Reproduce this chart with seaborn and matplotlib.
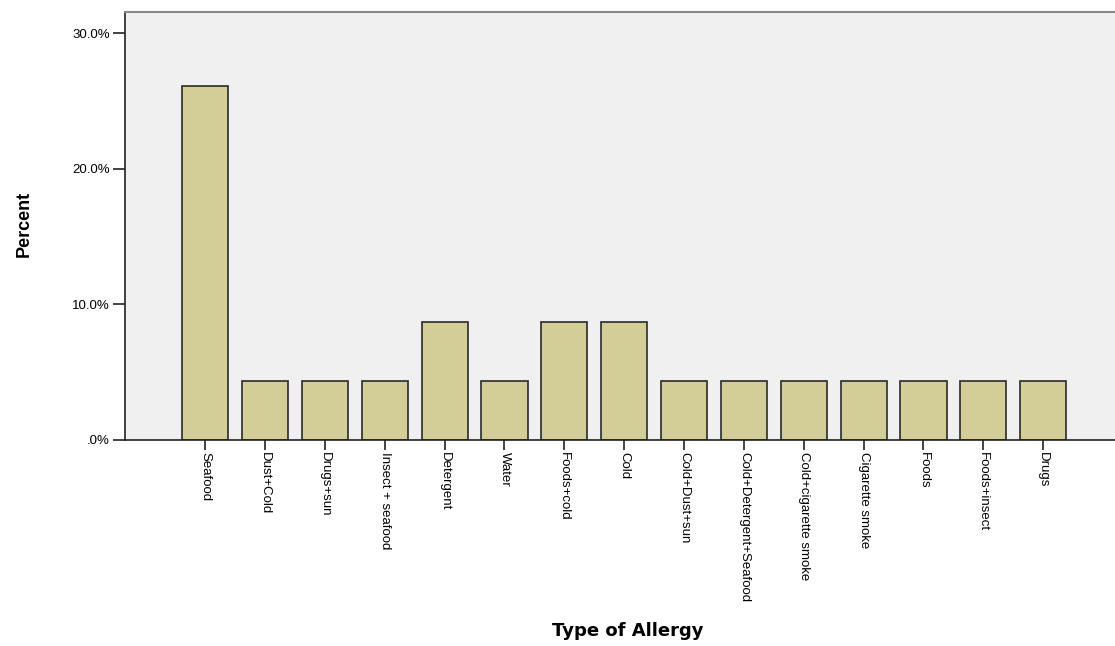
import matplotlib
matplotlib.use("Agg")
import matplotlib.pyplot as plt
import seaborn as sns
from matplotlib.ticker import FuncFormatter

allergy_types = [
    "Seafood", "Dust+Cold", "Drugs+sun", "Insect + seafood", "Detergent",
    "Water", "Foods+cold", "Cold", "Cold+Dust+sun", "Cold+Detergent+Seafood",
    "Cold+cigarette smoke", "Cigarette smoke", "Foods", "Foods+insect", "Drugs",
]
percents = [26.09, 4.35, 4.35, 4.35, 8.70, 4.35, 8.70, 8.70,
            4.35, 4.35, 4.35, 4.35, 4.35, 4.35, 4.35]

sns.set_theme(style="white")
plt.rcParams["font.family"] = ["Liberation Sans", "DejaVu Sans"]
plt.rcParams["text.color"] = "black"
plt.rcParams["axes.labelcolor"] = "black"
plt.rcParams["xtick.color"] = "black"
plt.rcParams["ytick.color"] = "black"

fig = plt.figure(figsize=(11.15, 6.46), dpi=100)
ax = fig.add_axes([0.1121, 0.3189, 0.8879, 0.6625])
ax.set_facecolor("#f0f0f0")

sns.barplot(x=allergy_types, y=percents, ax=ax, color="#d3ce97",
            edgecolor="#2a2a2a", linewidth=1.2, width=0.77, saturation=1)

ax.set_xlim(-1.34, 15.2)
ax.set_ylim(0, 31.55)
ax.set_yticks([0, 10, 20, 30])
ax.yaxis.set_major_formatter(FuncFormatter(lambda v, p: ".0%" if v == 0 else f"{v:.1f}%"))

ax.tick_params(axis="y", direction="out", length=9, width=1.2, color="#222222",
               labelsize=9.5, pad=2, left=True)
ax.tick_params(axis="x", direction="out", length=7, width=1.2, color="#222222",
               labelsize=9.5, pad=2, bottom=True)
plt.setp(ax.get_xticklabels(), rotation=-90, ha="center", va="top")

for s in ["left", "bottom"]:
    ax.spines[s].set_color("#222222")
    ax.spines[s].set_linewidth(1.2)
ax.spines["top"].set_color("#888888")
ax.spines["top"].set_linewidth(1.5)
ax.spines["right"].set_visible(False)

ax.set_xlabel("Type of Allergy", fontsize=13, fontweight="bold",
              family=["DejaVu Sans"])
ax.set_ylabel("Percent", fontsize=13, fontweight="bold")
ax.xaxis.set_label_coords(0.508, -0.425)
ax.yaxis.set_label_coords(-0.093, 0.505)

fig.savefig("out.png", dpi=100)
plt.close(fig)
